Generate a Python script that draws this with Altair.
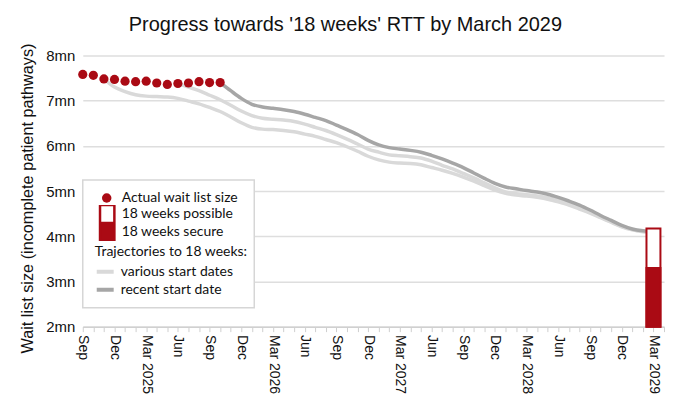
import json
import altair as alt
import pandas as pd

RED = "#aa0a14"
LIGHT = "#d9d9d9"
DARK = "#a6a6a6"

# x positions are month indexes: 0 = Sep 2024 ... 54 = Mar 2029
tick_labels = ["Sep", "Dec", "Mar 2025", "Jun", "Sep", "Dec", "Mar 2026", "Jun",
               "Sep", "Dec", "Mar 2027", "Jun", "Sep", "Dec", "Mar 2028", "Jun",
               "Sep", "Dec", "Mar 2029"]

# Actual wait list size (mn), Sep 2024 - Oct 2025
actual_start = 0
actual = [7.58, 7.56, 7.48, 7.47, 7.43, 7.42, 7.43, 7.39, 7.36, 7.38, 7.39, 7.42, 7.40, 7.40]

# Trajectories (mn), monthly
traj_a_start = 2
traj_a = [7.48, 7.30, 7.20, 7.13, 7.10, 7.09, 7.08, 7.05, 6.99, 6.93, 6.85, 6.76, 6.64,
          6.51, 6.41, 6.37, 6.36, 6.34, 6.31, 6.26, 6.21, 6.14, 6.07, 5.98, 5.88, 5.77,
          5.69, 5.64, 5.62, 5.61, 5.58, 5.52, 5.46, 5.39, 5.31, 5.22, 5.12, 5.02, 4.95,
          4.91, 4.89, 4.86, 4.82, 4.76, 4.69, 4.60, 4.51, 4.41, 4.31, 4.21, 4.14, 4.10, 4.08]
traj_b_start = 9
traj_b = [7.38, 7.30, 7.22, 7.12, 7.02, 6.90, 6.77, 6.67, 6.61, 6.59, 6.57, 6.54, 6.48,
          6.41, 6.34, 6.25, 6.15, 6.04, 5.93, 5.86, 5.80, 5.78, 5.76, 5.73, 5.66, 5.57,
          5.49, 5.39, 5.29, 5.18, 5.07, 4.98, 4.94, 4.92, 4.89, 4.85, 4.79, 4.72, 4.63,
          4.53, 4.42, 4.32, 4.22, 4.15, 4.11, 4.09]
traj_recent_start = 13
traj_recent = [7.40, 7.22, 7.05, 6.92, 6.86, 6.83, 6.80, 6.76, 6.70, 6.63, 6.56, 6.46,
               6.36, 6.25, 6.12, 6.02, 5.96, 5.93, 5.90, 5.86, 5.79, 5.71, 5.62, 5.52,
               5.40, 5.28, 5.17, 5.09, 5.05, 5.01, 4.98, 4.93, 4.86, 4.78, 4.69, 4.58,
               4.46, 4.35, 4.24, 4.16, 4.12, 4.10]

# March 2029 bar (mn)
bar_month = 54
bar_base = 2.0
secure_top = 3.30
possible_top = 4.17

y_min, y_max = 2, 8

# ---- tables ----
df_actual = pd.DataFrame({
    "m": list(range(actual_start, actual_start + len(actual))),
    "v": actual,
    "kind": "Actual wait list size",
})

def traj_df(start, vals, name, kind):
    return pd.DataFrame({"m": list(range(start, start + len(vals))), "v": vals,
                         "line": name, "kind": kind})

df_light = pd.concat([
    traj_df(traj_a_start, traj_a, "a", "various start dates"),
    traj_df(traj_b_start, traj_b, "b", "various start dates"),
])
df_dark = traj_df(traj_recent_start, traj_recent, "r", "recent start date")

df_bar = pd.DataFrame({
    "m": [bar_month, bar_month],
    "v": [bar_base, bar_base],
    "v2": [possible_top, secure_top],
    "part": ["18 weeks possible", "18 weeks secure"],
})

label_expr = ("datum.value % 3 == 0 ? " + json.dumps(tick_labels) +
              "[datum.value / 3] : ''")

x_scale = alt.Scale(domain=[0, 55], nice=False, zero=False, padding=0)
x_axis = alt.Axis(values=list(range(0, 56)), labelExpr=label_expr,
                  labelAngle=90, labelOverlap=False, labelFontSize=14,
                  labelColor="#111", labelFont="Liberation Sans",
                  labelPadding=3, tickSize=5, tickColor="#cfcfcf",
                  domainColor="#d0d0d0", domainWidth=1.5, grid=False,
                  title=None)
y_scale = alt.Scale(domain=[y_min, y_max], nice=False, zero=False, padding=0)
y_axis = alt.Axis(values=list(range(y_min, y_max + 1)),
                  labelExpr="datum.value + 'mn'", labelFontSize=15,
                  labelColor="#111", labelFont="Liberation Sans",
                  ticks=False, domain=False, labelPadding=8,
                  gridColor="#dedede", gridWidth=1.5,
                  title="Wait list size (incomplete patient pathways)",
                  titleFontSize=16.3, titleFontWeight="normal",
                  titleColor="#111", titleFont="Liberation Sans",
                  titlePadding=10, titleY=143)

x_enc = alt.X("m:Q", scale=x_scale, axis=x_axis)
y_enc = alt.Y("v:Q", scale=y_scale, axis=y_axis)

frame = alt.Chart(pd.DataFrame({"a": [0]})).mark_rect(
    fill="white", stroke="#d6d6d6", strokeWidth=1.5
).encode(x=alt.value(0), x2=alt.value(172), y=alt.value(125), y2=alt.value(253))

stroke_scale = alt.Scale(domain=["various start dates", "recent start date"],
                         range=[LIGHT, DARK])
stroke_legend = alt.Legend(orient="none", legendX=12, legendY=190,
                           title="Trajectories to 18 weeks:", symbolType="stroke",
                           symbolSize=289, symbolStrokeWidth=4, rowPadding=2,
                           clipHeight=16,
                           labelFont="Lato", labelFontSize=14, labelColor="#111",
                           titleFont="Lato", titleFontSize=14, titleFontWeight="normal",
                           titleColor="#111", titlePadding=5, labelOffset=5)

light = alt.Chart(df_light).mark_line(strokeWidth=3.5, interpolate="monotone").encode(
    x=x_enc, y=y_enc, detail="line:N",
    stroke=alt.Stroke("kind:N", scale=stroke_scale, legend=stroke_legend))
dark = alt.Chart(df_dark).mark_line(strokeWidth=3.5, interpolate="monotone").encode(
    x=x_enc, y=y_enc,
    stroke=alt.Stroke("kind:N", scale=stroke_scale, legend=stroke_legend))

points = alt.Chart(df_actual).mark_circle(size=85, opacity=1).encode(
    x=x_enc, y=y_enc,
    color=alt.Color("kind:N", scale=alt.Scale(domain=["Actual wait list size"], range=[RED]),
                    legend=alt.Legend(orient="none", legendX=17, legendY=136, title=None,
                                      symbolType="circle", symbolSize=90,
                                      labelFont="Lato", labelFontSize=14,
                                      labelColor="#111", labelOffset=8)))

bars = alt.Chart(df_bar).mark_bar(size=14, stroke=RED, strokeWidth=2).encode(
    x=x_enc,
    y=y_enc,
    y2="v2:Q",
    fill=alt.Fill("part:N",
                  scale=alt.Scale(domain=["18 weeks possible", "18 weeks secure"],
                                  range=["white", RED]),
                  legend=alt.Legend(orient="none", legendX=14, legendY=150, title=None,
                                    symbolType="M-0.8,-1H0.8V1H-0.8Z",
                                    symbolSize=324, symbolStrokeColor=RED,
                                    symbolStrokeWidth=2.5, rowPadding=0,
                                    clipHeight=18,
                                    labelFont="Lato", labelFontSize=14,
                                    labelColor="#111", labelOffset=4)),
    order=alt.Order("v2:Q", sort="descending"))

chart = alt.layer(frame, light, dark, points, bars).properties(
    width=583, height=272,
    autosize="none",
    padding={"left": 75, "top": 47, "right": 8, "bottom": 80},
    title=alt.TitleParams("Progress towards '18 weeks' RTT by March 2029",
                          font="Liberation Sans", fontSize=20, fontWeight="normal",
                          color="#111", anchor="middle", frame="bounds", offset=8),
).configure_view(strokeWidth=0)

chart.save("out.html", embed_options={"renderer": "svg", "actions": False})
